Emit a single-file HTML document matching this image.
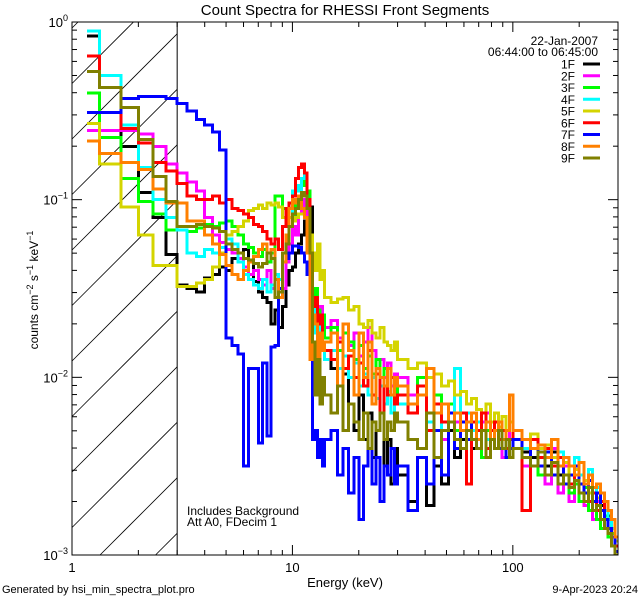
<!DOCTYPE html>
<html><head><meta charset="utf-8"><style>
html,body{margin:0;padding:0;background:#fff;width:640px;height:600px;overflow:hidden;}
svg{display:block;font-family:"Liberation Sans",sans-serif;}
</style></head><body>
<svg id="chart" width="640" height="600" viewBox="0 0 640 600" xmlns="http://www.w3.org/2000/svg">
<rect width="640" height="600" fill="#fff"/>
<text x="345" y="15" font-size="15" text-anchor="middle">Count Spectra for RHESSI Front Segments</text>
<text x="345" y="587" font-size="13" text-anchor="middle">Energy (keV)</text>
<text transform="translate(38,290) rotate(-90)" font-size="12" text-anchor="middle">counts cm<tspan font-size="9" dy="-5">−2</tspan><tspan dy="5"> s</tspan><tspan font-size="9" dy="-5">−1</tspan><tspan dy="5"> keV</tspan><tspan font-size="9" dy="-5">−1</tspan></text>
<text x="2" y="593" font-size="11">Generated by hsi_min_spectra_plot.pro</text>
<text x="638" y="593" font-size="11" text-anchor="end">9-Apr-2023 20:24</text>
<text x="187" y="515" font-size="12">Includes Background</text>
<text x="187" y="526" font-size="12">Att A0, FDecim 1</text>
<text x="598" y="45" font-size="12" text-anchor="end">22-Jan-2007</text>
<text x="598" y="56" font-size="12" text-anchor="end">06:44:00 to 06:45:00</text>
<g id="plot"></g>
<g id="axes"></g>
<g id="legend"></g>
</svg>
<script>
const seriesNames=["1F","2F","3F","4F","5F","6F","7F","8F","9F"];
const seriesColors=["#000000","#ff00ff","#00ff00","#00ffff","#d4d400","#ff0000","#0000ff","#ff8000","#808000"];
const edgesLow=[1.167,1.333,1.667,2,2.333,2.667,3,3.333,3.667,4,4.333,4.667,5,5.333,5.667,6,6.333,6.667,7,7.333,7.667,8,8.333,8.667,9,9.333,9.667,10,10.333,10.667,11,11.333,11.667,12,12.333,12.667,13,13.333,13.667];
const edgesHigh=[14,15,16,17,18,19,20,21,22,23,24,25,26,27,28,29,30,33.5,37,40.5,44,47.5,51,54.5,58,61.5,65,68.5,72,75.5,79,82.5,86,89.5,93,96.5,100,110,120,130,140,150,160,170,180,190,200,210,220,230,240,250,260,270,280,290,300];
const s1F=[-0.08,-0.37,-0.70,-0.96,-1.10,-1.31,-1.48,-1.50,-1.52,-1.44,-1.42,-1.38,-1.40,-1.33,-1.30,-1.28,-1.35,-1.46,-1.52,-1.55,-1.58,-1.70,-1.62,-1.72,-1.60,-1.48,-1.40,-1.38,-1.30,-1.25,-1.20,-1.12,-1.04,-1.04,-1.60,-1.75,-1.70,-1.85,-1.80,
-1.85,-1.95,-2.05,-1.98,-2.15,-2.3,-2.1,-2.35,-2.2,-2.45,-2.3,-2.2,-2.5,-2.35,-2.6,-2.4,
-2.55,-2.7,-2.45,-2.72,-2.5,-2.6,-2.3,-2.45,-2.35,-2.25,-2.4,-2.3,-2.45,-2.3,-2.35,-2.4,-2.28,-2.45,-2.35,-2.4,
-2.35,-2.42,-2.45,-2.38,-2.5,-2.42,-2.55,-2.48,-2.6,-2.5,-2.55,-2.62,-2.58,-2.7,-2.65,-2.72,-2.8,-2.78,-2.9,-2.95];
const s2F=[-0.61,-0.61,-0.61,-0.63,-0.70,-0.80,-0.85,-0.90,-0.95,-1.10,-1.20,-1.24,-1.28,-1.30,-1.33,-1.38,-1.42,-1.40,-1.45,-1.48,-1.40,-1.50,-1.42,-1.55,-1.50,-1.35,-1.25,-1.15,-1.20,-1.08,-1.05,-1.00,-1.10,-1.40,-1.55,-1.50,-1.65,-1.60,-1.70,
-1.72,-1.68,-1.78,-1.70,-1.82,-1.75,-1.88,-1.80,-1.72,-1.85,-1.95,-1.9,-2.0,-1.92,-2.05,-1.98,
-2.0,-2.1,-2.05,-2.2,-2.1,-2.35,-2.15,-2.25,-2.2,-2.3,-2.2,-2.4,-2.25,-2.2,-2.35,-2.3,-2.25,-2.45,-2.3,-2.35,
-2.3,-2.5,-2.35,-2.55,-2.6,-2.4,-2.65,-2.5,-2.7,-2.55,-2.6,-2.72,-2.65,-2.8,-2.7,-2.75,-2.85,-2.9,-2.95,-3.0];
const s3F=[-0.40,-0.65,-0.88,-1.01,-1.08,-1.17,-1.17,-1.18,-1.16,-1.14,-1.15,-1.13,-1.12,-1.15,-1.20,-1.25,-1.27,-1.30,-1.32,-1.28,-1.35,-1.30,-0.98,-0.98,-1.05,-1.10,-1.15,-1.10,-1.02,-0.98,-0.92,-0.88,-0.95,-1.30,-1.55,-1.50,-1.62,-1.70,-1.65,
-1.78,-1.72,-1.85,-1.75,-1.80,-1.9,-1.82,-1.95,-1.88,-1.98,-1.9,-2.05,-1.95,-2.08,-2.0,-2.1,
-2.05,-2.15,-2.0,-2.2,-2.1,-2.25,-2.15,-2.3,-2.4,-2.2,-2.35,-2.25,-2.45,-2.3,-2.35,-2.25,-2.4,-2.3,-2.35,-2.45,
-2.35,-2.45,-2.4,-2.55,-2.45,-2.5,-2.6,-2.55,-2.65,-2.6,-2.7,-2.62,-2.75,-2.7,-2.8,-2.85,-2.78,-2.9,-2.88,-2.95];
const s4F=[-0.05,-0.30,-0.58,-0.82,-1.00,-1.10,-1.17,-1.30,-1.32,-1.28,-1.30,-1.27,-1.22,-1.25,-1.35,-1.42,-1.45,-1.48,-1.50,-1.45,-1.52,-1.48,-1.42,-1.45,-1.35,-1.25,-1.10,-0.95,-0.92,-0.95,-0.88,-0.86,-1.05,-1.35,-1.60,-1.75,-1.70,-1.85,-1.80,
-1.9,-1.85,-1.95,-1.88,-2.0,-1.92,-2.05,-1.98,-2.1,-2.0,-2.12,-2.05,-2.15,-2.08,-2.2,-2.1,
-2.15,-2.2,-2.1,-2.25,-2.15,-2.3,-2.2,-1.95,-2.25,-2.2,-2.3,-2.25,-2.2,-2.35,-2.3,-2.25,-2.35,-2.3,-2.4,-2.35,
-2.3,-2.4,-2.35,-2.45,-2.38,-2.5,-2.42,-2.55,-2.5,-2.45,-2.55,-2.6,-2.52,-2.65,-2.62,-2.7,-2.75,-2.8,-2.85,-2.9];
const s5F=[-0.57,-0.80,-1.04,-1.20,-1.37,-1.37,-1.49,-1.49,-1.47,-1.45,-1.38,-1.30,-1.20,-1.18,-1.15,-1.12,-1.06,-1.05,-1.03,-1.05,-1.02,-1.03,-1.02,-1.04,-1.10,-1.12,-1.10,-1.12,-1.10,-1.08,-1.08,-1.10,-1.12,-1.20,-1.30,-1.40,-1.25,-1.45,-1.40,
-1.55,-1.58,-1.56,-1.55,-1.62,-1.60,-1.7,-1.72,-1.68,-1.75,-1.78,-1.72,-1.8,-1.82,-1.85,-1.8,
-1.9,-1.95,-1.92,-2.0,-1.98,-2.05,-2.02,-2.1,-2.08,-2.15,-2.12,-2.18,-2.2,-2.15,-2.25,-2.2,-2.28,-2.22,-2.3,-2.25,
-2.3,-2.35,-2.32,-2.4,-2.38,-2.45,-2.5,-2.48,-2.55,-2.52,-2.6,-2.58,-2.65,-2.7,-2.68,-2.75,-2.8,-2.85,-2.9,-2.92];
const s6F=[-0.19,-0.37,-0.60,-0.68,-0.79,-0.84,-0.91,-0.98,-1.00,-1.00,-0.98,-1.02,-1.00,-1.05,-1.06,-1.08,-1.10,-1.14,-1.15,-1.18,-1.22,-1.25,-1.22,-1.28,-1.15,-1.05,-1.02,-0.98,-0.88,-0.82,-0.80,-0.85,-1.00,-1.40,-1.60,-1.55,-1.70,-1.65,-1.80,
-1.85,-1.9,-1.8,-1.95,-1.88,-2.0,-1.92,-2.05,-1.85,-2.1,-1.98,-2.2,-2.05,-2.1,-2.0,-2.15,
-2.1,-2.2,-2.05,-2.3,-2.15,-2.25,-2.2,-2.35,-2.2,-2.6,-2.25,-2.3,-2.2,-2.4,-2.3,-2.25,-2.35,-2.3,-2.4,-2.35,
-2.3,-2.75,-2.35,-2.45,-2.4,-2.5,-2.45,-2.55,-2.6,-2.5,-2.65,-2.6,-2.7,-2.65,-2.75,-2.7,-2.8,-2.85,-2.9,-2.95];
const s7F=[-0.51,-0.51,-0.43,-0.42,-0.42,-0.43,-0.46,-0.50,-0.55,-0.58,-0.62,-0.72,-1.78,-1.82,-1.87,-2.50,-1.95,-1.95,-2.37,-1.92,-2.33,-1.83,-1.82,-1.50,-1.35,-1.33,-1.30,-1.26,-1.26,-1.27,-1.30,-1.35,-1.42,-1.80,-2.35,-2.30,-2.45,-2.35,-2.50,
-2.35,-2.3,-2.55,-2.4,-2.65,-2.45,-2.8,-2.5,-2.4,-2.6,-2.45,-2.7,-2.5,-2.55,-2.4,-2.6,
-2.5,-2.75,-2.45,-2.6,-2.3,-2.55,-2.2,-2.4,-2.25,-2.35,-2.2,-2.4,-2.3,-2.45,-2.35,-2.3,-2.4,-2.35,-2.45,-2.4,
-2.35,-2.45,-2.4,-2.5,-2.42,-2.55,-2.5,-2.6,-2.55,-2.5,-2.6,-2.65,-2.58,-2.7,-2.65,-2.75,-2.8,-2.85,-2.9,-2.98];
const s8F=[-0.67,-0.74,-0.79,-0.83,-0.94,-1.02,-1.02,-1.12,-1.12,-1.20,-1.25,-1.31,-1.37,-1.42,-1.45,-1.40,-1.35,-1.32,-1.28,-1.25,-1.30,-1.28,-1.45,-1.55,-1.35,-1.20,-1.05,-1.00,-1.02,-0.98,-1.05,-1.10,-1.30,-1.90,-1.65,-1.70,-1.95,-1.75,-1.85,
-1.8,-1.75,-2.05,-1.7,-1.85,-2.1,-1.75,-2.0,-1.8,-2.15,-1.95,-2.0,-2.05,-1.95,-2.1,-2.0,
-2.05,-2.15,-2.1,-1.95,-2.2,-2.15,-2.25,-2.2,-2.3,-2.25,-2.2,-2.35,-2.3,-2.25,-2.35,-2.3,-2.25,-2.35,-2.3,-2.1,
-2.3,-2.35,-2.4,-2.38,-2.45,-2.35,-2.5,-2.45,-2.5,-2.55,-2.48,-2.6,-2.55,-2.62,-2.6,-2.65,-2.7,-2.75,-2.8,-2.9];
const s9F=[-0.28,-0.37,-0.48,-0.66,-0.87,-1.01,-1.15,-1.15,-1.14,-1.15,-1.16,-1.18,-1.25,-1.28,-1.30,-1.33,-1.34,-1.36,-1.38,-1.36,-1.30,-1.33,-1.55,-1.52,-1.30,-1.25,-1.15,-1.08,-1.05,-1.00,-0.96,-0.98,-1.05,-1.30,-1.80,-2.10,-1.90,-2.15,-2.00,
-2.1,-2.2,-2.05,-2.3,-2.15,-2.25,-2.35,-2.2,-2.4,-2.25,-2.3,-2.2,-2.35,-2.25,-2.3,-2.2,
-2.25,-2.35,-2.4,-2.2,-2.45,-2.3,-2.25,-2.35,-2.4,-2.3,-2.35,-2.4,-2.3,-2.45,-2.35,-2.4,-2.3,-2.4,-2.35,-2.45,
-2.4,-2.45,-2.5,-2.42,-2.55,-2.48,-2.6,-2.55,-2.62,-2.58,-2.65,-2.7,-2.62,-2.75,-2.72,-2.8,-2.85,-2.88,-2.95,-3.0];
const seriesLogValues=[s1F,s2F,s3F,s4F,s5F,s6F,s7F,s8F,s9F];
const xTickLabels=["1","10","100"];
const xTickValues=[1,10,100];
const yTickExps=["0","−1","−2","−3"];
const yTickValues=[1,0.1,0.01,0.001];

const NS="http://www.w3.org/2000/svg";
const X0=72,X1=618,Y0=22,Y1=555;
const xMin=1,xMax=300,yMinLog=-3,yMaxLog=0;
function xs(e){return X0+(Math.log10(e)-Math.log10(xMin))/(Math.log10(xMax)-Math.log10(xMin))*(X1-X0);}
function ysLog(l){l=Math.max(yMinLog,Math.min(yMaxLog,l));return Y1-(l-yMinLog)/(yMaxLog-yMinLog)*(Y1-Y0);}
function mk(tag,attrs,parent){const el=document.createElementNS(NS,tag);for(const k in attrs)el.setAttribute(k,attrs[k]);parent.appendChild(el);return el;}
const edges=edgesLow.concat(edgesHigh);
const plot=document.getElementById('plot');
const axes=document.getElementById('axes');
const legend=document.getElementById('legend');

const defs=mk('defs',{},plot);
const cp=mk('clipPath',{id:'clip'},defs);
mk('rect',{x:X0,y:Y0,width:X1-X0,height:Y1-Y0},cp);

const hatch=mk('g',{},plot);


const xh=xs(3);
for(let c=28;c<Y1+(xh-X0);c+=55.5){
  // line: y = c - (x - X0), clipped to X0..xh and Y0..Y1
  let xa=X0, xb=xh;
  xa=Math.max(xa, X0+(c-Y1));
  xb=Math.min(xb, X0+(c-Y0));
  if(xb<=xa) continue;
  const ln=mk('line',{x1:xa,y1:c-(xa-X0),x2:xb,y2:c-(xb-X0),stroke:'#000','stroke-width':0.8},hatch);
  
  
}
const vl=mk('line',{x1:xh,y1:Y0,x2:xh,y2:Y1,stroke:'#000','stroke-width':1},plot);



const sg=mk('g',{'clip-path':'url(#clip)'},plot);
seriesLogValues.forEach((vals,si)=>{
  let d='';
  for(let i=0;i<vals.length&&i+1<edges.length;i++){
    const xa=xs(edges[i]),xb=xs(edges[i+1]),y=ysLog(vals[i]);
    d+=(i===0?'M':'L')+xa.toFixed(1)+','+y.toFixed(1)+'L'+xb.toFixed(1)+','+y.toFixed(1);
  }
  const p=mk('path',{d:d,fill:'none',stroke:seriesColors[si],'stroke-width':3,'stroke-linejoin':'miter','shape-rendering':'crispEdges'},sg);
  
  
});

const fr=mk('rect',{x:X0,y:Y0,width:X1-X0,height:Y1-Y0,fill:'none',stroke:'#000','stroke-width':1},axes);



for(let dec=1;dec<=100;dec*=10){
  for(let m=1;m<=9;m++){
    const v=dec*m; if(v>xMax) break;
    const x=xs(v), len=(m===1)?10:5;
    const t1=mk('line',{x1:x,y1:Y1,x2:x,y2:Y1-len,stroke:'#000','stroke-width':1},axes);
    
    
    const t2=mk('line',{x1:x,y1:Y0,x2:x,y2:Y0+len,stroke:'#000','stroke-width':1},axes);
    
    
  }
}
xTickValues.forEach((v,i)=>{
  const t=mk('text',{x:xs(v),y:572,'font-size':13,'text-anchor':'middle'},axes);
  t.textContent=xTickLabels[i];
  
  
});
for(let e=-3;e<0;e++){
  for(let m=1;m<=9;m++){
    const l=e+Math.log10(m); const y=ysLog(l); const len=(m===1)?10:5;
    const a=mk('line',{x1:X0,y1:y,x2:X0+len,y2:y,stroke:'#000','stroke-width':1},axes);
    
    
    const b=mk('line',{x1:X1,y1:y,x2:X1-len,y2:y,stroke:'#000','stroke-width':1},axes);
    
    
  }
}
yTickValues.forEach((v,i)=>{
  const y=ysLog(Math.log10(v));
  const t=mk('text',{x:68,y:y+5,'font-size':13,'text-anchor':'end'},axes);
  
  
  const b=mk('tspan',{},t); b.textContent='10';
  const s=mk('tspan',{'font-size':9,dy:-6},t); s.textContent=yTickExps[i];
});

seriesNames.forEach((n,i)=>{
  const y=64+i*11.75;
  const g=mk('g',{},legend);
  
  
  const t=mk('text',{x:575,y:y+4.5,'font-size':12,'text-anchor':'end'},g);
  t.textContent=n;
  mk('line',{x1:583,y1:y,x2:600,y2:y,stroke:seriesColors[i],'stroke-width':3},g);
});
</script>
</body></html>
